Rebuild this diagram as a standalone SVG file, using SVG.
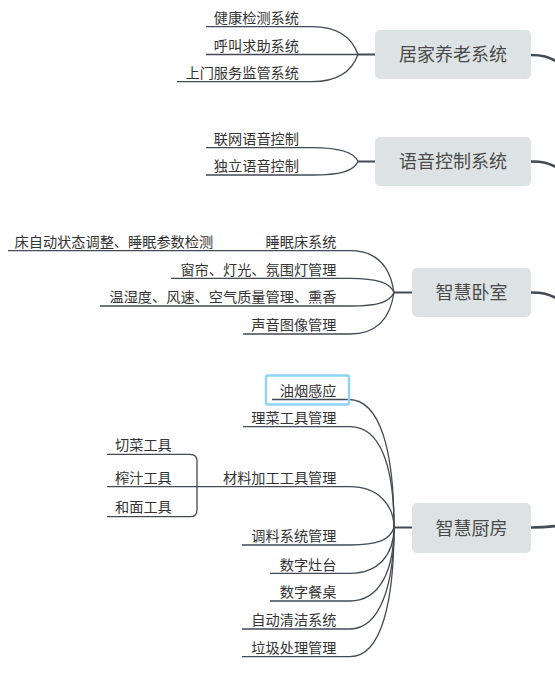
<svg xmlns="http://www.w3.org/2000/svg" width="555" height="696" viewBox="0 0 555 696">
<style>
.bg{fill:#ffffff}
.box{fill:#dde3e5;stroke:none}
.bt{font-family:"Noto Sans CJK SC","Noto Sans",sans-serif;font-size:18px;fill:#4a4a4a;text-anchor:middle}
.t{font-family:"Noto Sans CJK SC","Noto Sans",sans-serif;font-size:14.2px;fill:#333333}
.e{text-anchor:end}
.l{fill:none;stroke:#434a54;stroke-width:1.3}
.s{fill:none;stroke:#434a54;stroke-width:2}
.m{fill:none;stroke:#434a54;stroke-width:2.5}
.sel{fill:none;stroke:#8fd2fa;stroke-width:2.4}
</style>
<rect class="bg" x="0" y="0" width="555" height="696"/>
<g id="connectors">
  <path class="l" d="M206,26.7 H312 C338,26.7 352,38 358,54.5"/>
  <path class="l" d="M206,54.5 H358"/>
  <path class="l" d="M177,81.7 H312 C338,81.7 352,71 358,54.5"/>
  <path class="s" d="M358,54.5 H375"/>
  <path class="m" d="M531,55 C543,55 548,57 556,61"/>

  <path class="l" d="M206,147.7 H312 C340,147.7 354,152 358,161.5"/>
  <path class="l" d="M206,175 H312 C340,175 354,171 358,161.5"/>
  <path class="s" d="M358,161.5 H375"/>
  <path class="m" d="M531,161.5 C543,161.5 548,163 556,167"/>

  <path class="l" d="M8,250.7 H350 C375,250.7 390,265 394,292.5"/>
  <path class="l" d="M171,278.3 H350 C378,278.3 390,283 394,292.5"/>
  <path class="l" d="M100,306 H350 C378,306 390,302 394,292.5"/>
  <path class="l" d="M243,334 H350 C375,334 390,320 394,292.5"/>
  <path class="s" d="M394,292.5 H412"/>
  <path class="m" d="M531,292.5 C543,292.5 548,294 556,298"/>

  <path class="l" d="M272,399.5 H349 C380,400 394,450 394,527.5"/>
  <path class="l" d="M243,426.7 H350 C380,426.7 394,465 394,527.5"/>
  <path class="l" d="M107,486.7 H350 C378,486.7 394,505 394,527.5"/>
  <path class="l" d="M107,454.3 H190 Q197,454.3 197,461 V510 Q197,516.7 190,516.7 H107"/>
  <path class="l" d="M242,545 H350 C378,545 390,540 394,527.5"/>
  <path class="l" d="M270,573.3 H350 C378,573.3 394,555 394,527.5"/>
  <path class="l" d="M270,601 H350 C380,601 394,570 394,527.5"/>
  <path class="l" d="M242,629 H350 C380,629 394,585 394,527.5"/>
  <path class="l" d="M242,656.7 H350 C382,656.7 394,600 394,527.5"/>
  <path class="s" d="M394,527.5 H412"/>
  <path class="m" d="M531,527.5 C543,527.5 548,527 556,526"/>
</g>

<g id="n-jujia"><rect class="box" x="375" y="30" width="156" height="49" rx="5"/><text class="bt" x="453" y="61">居家养老系统</text></g>
<g id="n-jiankang"><text class="t e" x="299" y="23">健康检测系统</text></g>
<g id="n-hujiao"><text class="t e" x="299" y="50.8">呼叫求助系统</text></g>
<g id="n-shangmen"><text class="t e" x="299" y="78">上门服务监管系统</text></g>

<g id="n-yuyin"><rect class="box" x="375" y="137" width="156" height="49" rx="5"/><text class="bt" x="453" y="168">语音控制系统</text></g>
<g id="n-lianwang"><text class="t e" x="299" y="144">联网语音控制</text></g>
<g id="n-duli"><text class="t e" x="299" y="171.3">独立语音控制</text></g>

<g id="n-woshi"><rect class="box" x="412" y="268" width="119" height="49" rx="5"/><text class="bt" x="471.5" y="299">智慧卧室</text></g>
<g id="n-shuimianchuang"><text class="t e" x="336.5" y="247">睡眠床系统</text></g>
<g id="n-chuangzidong"><text class="t" x="14.5" y="247">床自动状态调整、睡眠参数检测</text></g>
<g id="n-chuanglian"><text class="t e" x="336.5" y="274.6">窗帘、灯光、氛围灯管理</text></g>
<g id="n-wenshidu"><text class="t e" x="336.5" y="302.3">温湿度、风速、空气质量管理、熏香</text></g>
<g id="n-shengyin"><text class="t e" x="336.5" y="330.3">声音图像管理</text></g>

<g id="n-chufang"><rect class="box" x="412" y="503" width="119" height="50" rx="5"/><text class="bt" x="471.5" y="534.5">智慧厨房</text></g>
<g id="n-youyan"><rect class="sel" x="266" y="375.5" width="83" height="29" rx="2"/><text class="t e" x="336.5" y="395.8">油烟感应</text></g>
<g id="n-licai"><text class="t e" x="336.5" y="423">理菜工具管理</text></g>
<g id="n-cailiao"><text class="t e" x="336.5" y="483">材料加工工具管理</text></g>
<g id="n-qiecai"><text class="t" x="115" y="450.3">切菜工具</text></g>
<g id="n-zhazhi"><text class="t" x="115" y="482.5">榨汁工具</text></g>
<g id="n-huomian"><text class="t" x="115" y="512.3">和面工具</text></g>
<g id="n-tiaoliao"><text class="t e" x="336.5" y="541.3">调料系统管理</text></g>
<g id="n-zaotai"><text class="t e" x="336.5" y="569.6">数字灶台</text></g>
<g id="n-canzhuo"><text class="t e" x="336.5" y="597.3">数字餐桌</text></g>
<g id="n-qingjie"><text class="t e" x="336.5" y="625.3">自动清洁系统</text></g>
<g id="n-laji"><text class="t e" x="336.5" y="653">垃圾处理管理</text></g>
</svg>
